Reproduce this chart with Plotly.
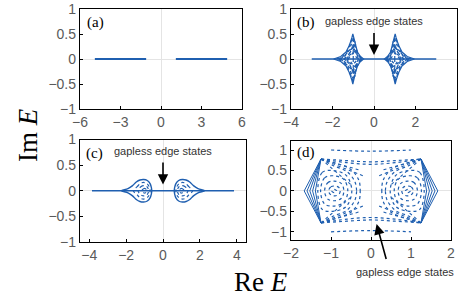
import plotly.graph_objects as go

BLUE = '#1f5fb0'

# ---------------- data ----------------
# (a) two real bands
a_band_x = [-4.9, -1.1, None, 1.1, 4.9]
a_band_y = [0, 0, None, 0, 0]

# (b) real-axis line and left cusp-shaped loops (upper halves); right cloud is mirror
b_axis_x = [-3.0, 3.0]
b_loops = [
    [(-1.95, 0), (-1.6, 0.05), (-1.35, 0.14), (-1.18, 0.28), (-1.07, 0.42), (-1.02, 0.5),
     (-0.97, 0.42), (-0.9, 0.28), (-0.8, 0.14), (-0.65, 0.05), (-0.5, 0)],
    [(-1.8, 0), (-1.5, 0.05), (-1.28, 0.15), (-1.12, 0.32), (-1.02, 0.44),
     (-0.95, 0.34), (-0.86, 0.2), (-0.72, 0.07), (-0.55, 0)],
    [(-1.7, 0), (-1.4, 0.06), (-1.2, 0.17), (-1.08, 0.3), (-1.02, 0.38),
     (-0.95, 0.3), (-0.85, 0.17), (-0.72, 0.06), (-0.58, 0)],
    [(-1.45, 0), (-1.25, 0.07), (-1.1, 0.18), (-1.02, 0.25), (-0.93, 0.18), (-0.8, 0.07), (-0.65, 0)],
    [(-1.25, 0), (-1.12, 0.06), (-1.02, 0.12), (-0.9, 0.06), (-0.78, 0)],
]
b_diag = [
    [(-1.6, 0.0), (-0.85, 0.3)],
    [(-0.6, 0.0), (-1.2, 0.3)],
    [(-1.45, 0.0), (-0.75, -0.2)],
    [(-1.3, 0.0), (-0.9, 0.35)],
    [(-0.75, 0.0), (-1.1, 0.35)],
    [(-1.0, 0.0), (-1.0, 0.45)],
]

# (c)
c_axis_x = [-3.85, 3.85]
c_loops = [
    [(-2.25, 0), (-1.9, 0.04), (-1.65, 0.1), (-1.45, 0.17), (-1.25, 0.21), (-1.05, 0.22),
     (-0.85, 0.2), (-0.7, 0.14), (-0.63, 0.06), (-0.61, 0)],
    [(-1.6, 0), (-1.4, 0.08), (-1.2, 0.15), (-1.0, 0.16), (-0.82, 0.12), (-0.72, 0.05), (-0.7, 0)],
    [(-1.35, 0), (-1.2, 0.08), (-1.02, 0.1), (-0.85, 0.07), (-0.78, 0)],
    [(-1.15, 0), (-1.05, 0.04), (-0.95, 0.04), (-0.88, 0)],
]

# (d) left hexagonal cloud (upper halves), mirrored to right
d_chevrons = [
    [(-1.25, 0.78), (-1.67, 0)],
    [(-1.25, 0.78), (-1.6, 0)],
    [(-1.25, 0.78), (-1.53, 0)],
    [(-1.25, 0.78), (-1.46, 0)],
    [(-1.25, 0.78), (-1.39, 0)],
]
d_rings = [
    [(-0.98, 0), (-0.92, 0.04), (-0.86, 0)],
    [(-1.06, 0), (-1.0, 0.1), (-0.9, 0.12), (-0.8, 0.08), (-0.77, 0)],
    [(-1.16, 0), (-1.08, 0.2), (-0.92, 0.24), (-0.74, 0.18), (-0.68, 0)],
    [(-1.26, 0), (-1.16, 0.32), (-0.94, 0.37), (-0.68, 0.28), (-0.58, 0)],
    [(-1.33, 0), (-1.22, 0.45), (-0.96, 0.5), (-0.62, 0.38), (-0.48, 0)],
]
d_open = [
    [(-1.25, 0.78), (-0.95, 0.62), (-0.6, 0.47), (-0.4, 0.22), (-0.36, 0)],
    [(-1.25, 0.78), (-0.9, 0.68), (-0.5, 0.52), (-0.3, 0.25), (-0.27, 0)],
]
d_rays = [
    [(-1.25, 0.78), (-0.15, 0.35)],
    [(-1.25, 0.78), (-0.25, 0.5)],
    [(-1.25, 0.78), (-0.5, 0.15)],
]
d_arcs = [
    [(-1.25, 0.78), (-0.6, 0.74), (0.0, 0.71), (0.6, 0.74), (1.25, 0.78)],
    [(-1.25, 0.78), (-0.6, 0.69), (0.0, 0.65), (0.6, 0.69), (1.25, 0.78)],
    [(-1.0, 1.0), (0.0, 0.97), (1.0, 1.0)],
]

# ---------------- helpers ----------------
def loop(upper):
    xs = [p[0] for p in upper]
    ys = [p[1] for p in upper]
    return xs + xs[::-1][1:], ys + [-y for y in ys[::-1][1:]]

def both_sides(xs, ys):
    return xs + [None] + [-x if x is not None else None for x in xs], ys + [None] + ys

def collect(shapes, closed=True, mirror_y=False, mirror_x=True):
    X, Y = [], []
    for s in shapes:
        if closed:
            xs, ys = loop(s)
        else:
            xs = [p[0] for p in s]
            ys = [p[1] for p in s]
        X += xs + [None]
        Y += ys + [None]
        if mirror_y:
            X += xs + [None]
            Y += [-y for y in ys] + [None]
    if mirror_x:
        return both_sides(X, Y)
    return X, Y

fig = go.Figure()

def add(x, y, ax, width=1.2, dash='solid', shape='linear'):
    fig.add_trace(go.Scatter(x=x, y=y, mode='lines', xaxis='x' + ax, yaxis='y' + ax,
                             line=dict(color=BLUE, width=width, dash=dash, shape=shape),
                             showlegend=False, hoverinfo='skip', connectgaps=False))

# (a)
add(a_band_x, a_band_y, '', width=1.8)
# (b)
add(b_axis_x, [0, 0], '2', width=1.6)
x, y = collect(b_loops[:1]); add(x, y, '2', width=1.2)
x, y = collect(b_loops[1:]); add(x, y, '2', width=1.3, dash='dot')
x, y = collect(b_diag, closed=False, mirror_y=True); add(x, y, '2', width=1.2, dash='dot')
# (c)
add(c_axis_x, [0, 0], '3', width=1.6)
x, y = collect(c_loops[:1]); add(x, y, '3', width=1.4, shape='spline')
x, y = collect(c_loops[1:]); add(x, y, '3', width=1.2, dash='dot', shape='spline')
# (d)
x, y = collect(d_chevrons, closed=False, mirror_y=True); add(x, y, '4', width=1.0)
x, y = collect(d_rings); add(x, y, '4', width=1.2, dash='dot', shape='spline')
x, y = collect(d_open, closed=False, mirror_y=True); add(x, y, '4', width=1.2, dash='dot', shape='spline')
x, y = collect(d_rays, closed=False, mirror_y=True); add(x, y, '4', width=1.1, dash='dot')
x, y = collect(d_arcs, closed=False, mirror_y=True, mirror_x=False)
add(x, y, '4', width=1.2, dash='dot', shape='spline')

W, H = 458, 301
def px(a, b):
    return [a / W, b / W]
def py(top, bottom):
    return [1 - bottom / H, 1 - top / H]

tickfont = dict(family='Liberation Sans, Arial, sans-serif', size=14, color='#5a5a5a')
common = dict(showline=True, linecolor='black', linewidth=1.3, mirror=True,
              ticks='inside', ticklen=3, tickcolor='black', showgrid=False,
              zeroline=True, zerolinecolor='#e4e4e4', zerolinewidth=1,
              tickfont=tickfont, fixedrange=True, automargin=False)

ytick_vals = [-1, -0.5, 0, 0.5, 1]
ytick_text = ['\u22121', '\u22120.5', '0', '0.5', '1']

layout = dict(
    width=W, height=H, margin=dict(l=0, r=0, t=0, b=0),
    paper_bgcolor='white', plot_bgcolor='white',
    xaxis=dict(domain=px(80, 242), range=[-6, 6], tickvals=[-6, -3, 0, 3, 6],
               ticktext=['\u22126', '\u22123', '0', '3', '6'], anchor='y', **common),
    yaxis=dict(domain=py(9, 109), range=[-1, 1], tickvals=ytick_vals, ticktext=ytick_text,
               anchor='x', **common),
    xaxis2=dict(domain=px(291, 457), range=[-4, 4], tickvals=[-4, -2, 0, 2, 4],
                ticktext=['\u22124', '\u22122', '0', '2', '4'], anchor='y2', **common),
    yaxis2=dict(domain=py(9, 109), range=[-1, 1], tickvals=ytick_vals, ticktext=ytick_text,
                anchor='x2', **common),
    xaxis3=dict(domain=px(80, 246), range=[-4.5, 4.5], tickvals=[-4, -2, 0, 2, 4],
                ticktext=['\u22124', '\u22122', '0', '2', '4'], anchor='y3', **common),
    yaxis3=dict(domain=py(139.5, 242), range=[-1, 1], tickvals=ytick_vals, ticktext=ytick_text,
                anchor='x3', **common),
    xaxis4=dict(domain=px(291, 451), range=[-2, 2], tickvals=[-2, -1, 0, 1, 2],
                ticktext=['\u22122', '\u22121', '0', '1', '2'], anchor='y4', **common),
    yaxis4=dict(domain=py(141, 240), range=[-1.2, 1.22], tickvals=ytick_vals, ticktext=ytick_text,
                anchor='x4', **common),
)
fig.update_layout(**layout)

serif = 'Liberation Serif, Times New Roman, serif'
sans = 'Liberation Sans, Arial, sans-serif'
ann = []
for lab, xr, yr, xv, yv in [('(a)', 'x', 'y', -5.6, 0.72), ('(b)', 'x2', 'y2', -3.8, 0.72),
                             ('(c)', 'x3', 'y3', -4.3, 0.72), ('(d)', 'x4', 'y4', -1.9, 0.93)]:
    ann.append(dict(text=lab, x=xv, y=yv, xref=xr, yref=yr, xanchor='left', yanchor='middle',
                    showarrow=False, font=dict(family=serif, size=15, color='black')))
# edge-state labels and arrows
ann.append(dict(text='gapless edge states', x=0, y=0.76, xref='x2', yref='y2', showarrow=False,
                xanchor='center', yanchor='middle',
                font=dict(family=sans, size=11, color='#333')))
ann.append(dict(text='', x=0, y=0.08, ax=0, ay=0.55, xref='x2', yref='y2', axref='x2', ayref='y2',
                showarrow=True, arrowhead=2, arrowsize=1.3, arrowwidth=1.6, arrowcolor='black'))
ann.append(dict(text='gapless edge states', x=0, y=0.78, xref='x3', yref='y3', showarrow=False,
                xanchor='center', yanchor='middle',
                font=dict(family=sans, size=11, color='#333')))
ann.append(dict(text='', x=0, y=0.12, ax=0, ay=0.58, xref='x3', yref='y3', axref='x3', ayref='y3',
                showarrow=True, arrowhead=2, arrowsize=1.3, arrowwidth=1.6, arrowcolor='black'))
ann.append(dict(text='gapless edge states', x=405 / W, y=1 - 272 / H, xref='paper', yref='paper',
                xanchor='center', yanchor='middle',
                showarrow=False, font=dict(family=sans, size=11, color='#333')))
ann.append(dict(text='', x=0.14, y=-0.81, ax=0.39, ay=-1.7, xref='x4', yref='y4', axref='x4', ayref='y4',
                showarrow=True, arrowhead=2, arrowsize=1.3, arrowwidth=1.6, arrowcolor='black'))
# axis titles
ann.append(dict(text='Im <i>E</i>', x=27.5 / W, y=1 - 135.5 / H, xref='paper', yref='paper',
                xanchor='center', yanchor='middle',
                textangle=-90, showarrow=False, font=dict(family=serif, size=27, color='black')))
ann.append(dict(text='Re <i>E</i>', x=261 / W, y=1 - 282 / H, xref='paper', yref='paper',
                xanchor='center', yanchor='middle',
                showarrow=False, font=dict(family=serif, size=27, color='black')))
fig.update_layout(annotations=ann)

fig.write_html('out.html', config={'displayModeBar': False},
               post_script="document.body.style.margin='0';document.body.style.padding='0';")
